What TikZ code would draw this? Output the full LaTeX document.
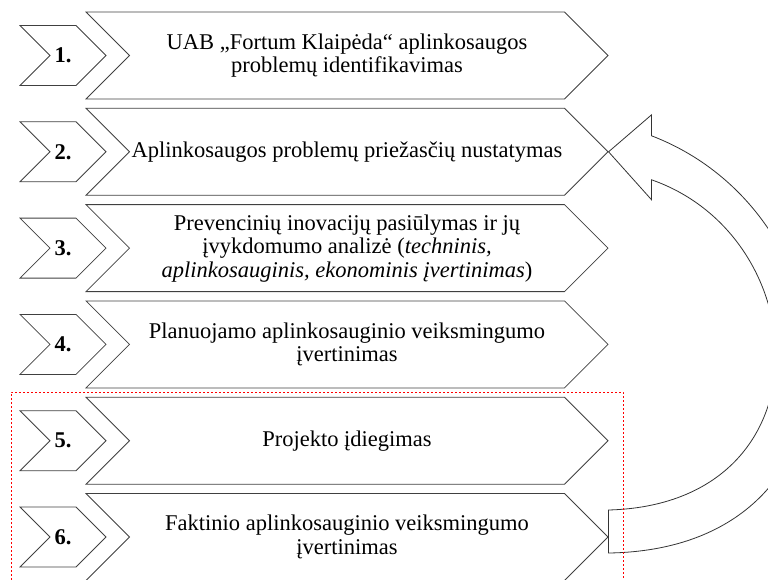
\documentclass[tikz,border=0pt]{standalone}
\usepackage{fontspec}
\setmainfont{Liberation Serif}
\usepackage{tikz}
\usetikzlibrary{positioning, shapes.symbols}

\begin{document}
\begin{tikzpicture}[
    x=1pt, y=-1pt,
    node distance=8.5pt,
    every node/.style={font=\fontsize{22.5}{23.5}\selectfont},
    stage/.style={draw=black!75, line width=0.8pt, signal, signal to=east, signal from=west, signal pointer angle=90, minimum width=522pt, minimum height=87pt, inner xsep=0pt, align=center},
    num/.style={draw=black!75, line width=0.8pt, signal, signal to=east, signal from=west, signal pointer angle=90, minimum width=86pt, minimum height=60pt, inner xsep=0pt, font=\fontsize{22.5}{23.5}\selectfont\bfseries},
    loop/.style={draw=black!80, line width=0.8pt},
    pilot/.style={draw=red, line width=0.8pt, dash pattern=on 2pt off 2pt}
]
\useasboundingbox (0,0) rectangle (768,579);
\node[stage] (s1) at (347,55.5) {UAB „Fortum Klaipėda“ aplinkosaugos\\problemų identifikavimas};
\node[stage, below=of s1] (s2) {Aplinkosaugos problemų priežasčių nustatymas};
\node[stage, below=of s2] (s3) {Prevencinių inovacijų pasiūlymas ir jų\\įvykdomumo analizė (\textit{techninis,}\\\textit{aplinkosauginis, ekonominis įvertinimas})};
\node[stage, below=of s3] (s4) {Planuojamo aplinkosauginio veiksmingumo\\įvertinimas};
\node[stage, below=of s4] (s5) {Projekto įdiegimas};
\node[stage, below=of s5] (s6) {Faktinio aplinkosauginio veiksmingumo\\įvertinimas};
\node[num] (n1) at (63,0 |- s1.center) {1.};
\node[num] (n2) at (63,0 |- s2.center) {2.};
\node[num] (n3) at (63,0 |- s3.center) {3.};
\node[num] (n4) at (63,0 |- s4.center) {4.};
\node[num] (n5) at (63,0 |- s5.center) {5.};
\node[num] (n6) at (63,0 |- s6.center) {6.};
% feedback arrow from 6 back to 2
\coordinate (head) at (s2.east);
\coordinate (tail) at ([yshift=5.5pt]s6.east);
\draw[loop] (head) -- ++(43,-37) -- ++(0,21)
    .. controls +(211,81) and +(272,-4) .. ([yshift=-21.5pt]tail)
    -- ([yshift=21.5pt]tail)
    .. controls +(222,-6) and +(166,58) .. ([shift={(43,28)}]head)
    -- ++(0,20) -- cycle;
% implementation part
\draw[pilot] (11,592) |- (623,392) -- (623,592);
\end{tikzpicture}
\end{document}
